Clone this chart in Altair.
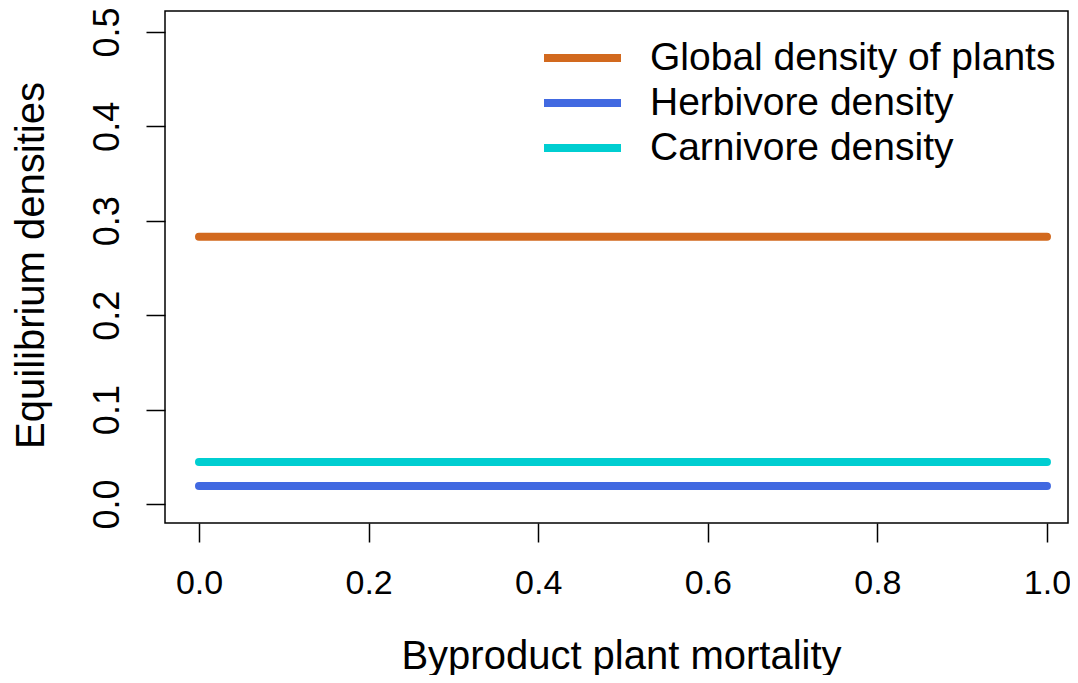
import altair as alt
import pandas as pd

series = ["Global density of plants", "Herbivore density", "Carnivore density"]
colors = ["#D2691E", "#4169E1", "#00CED1"]
mortality = [0.0, 1.0]
global_plants = [0.283, 0.283]
herbivore = [0.019, 0.019]
carnivore = [0.0445, 0.0445]
x_ticks = [0.0, 0.2, 0.4, 0.6, 0.8, 1.0]
y_ticks = [0.0, 0.1, 0.2, 0.3, 0.4, 0.5]

rows = []
for name, vals in zip(series, [global_plants, herbivore, carnivore]):
    for x, v in zip(mortality, vals):
        rows.append({"mortality": x, "density": v, "series": name})
df = pd.DataFrame(rows)

FONT = "Liberation Sans"

chart = alt.Chart(df).mark_line(strokeWidth=8, strokeCap="round").encode(
    x=alt.X("mortality:Q",
            scale=alt.Scale(domain=[-0.0401, 1.0248], nice=False, zero=False),
            axis=alt.Axis(values=x_ticks, format=".1f", title="Byproduct plant mortality",
                          domain=False, grid=False, tickSize=19, tickWidth=1.5, tickColor="black",
                          labelFontSize=34, labelFont=FONT, labelColor="black",
                          labelBaseline="alphabetic", labelPadding=51, labelFlush=False,
                          titleFontSize=40, titleFont=FONT, titleFontWeight="normal", titleColor="black",
                          titleBaseline="alphabetic", titleX=456, titleY=145, titleAlign="center")),
    y=alt.Y("density:Q",
            scale=alt.Scale(domain=[-0.0201, 0.5222], nice=False, zero=False),
            axis=alt.Axis(values=y_ticks, format=".1f", title="Equilibrium densities",
                          domain=False, grid=False, tickSize=19, tickWidth=1.5, tickColor="black",
                          labelFontSize=36, labelFont=FONT, labelColor="black",
                          labelAngle=-90, labelAlign="center", labelBaseline="alphabetic",
                          labelPadding=28, labelFlush=False,
                          titleFontSize=40, titleFont=FONT, titleFontWeight="normal", titleColor="black",
                          titleAngle=-90, titleBaseline="alphabetic", titleAlign="center",
                          titleX=-122, titleY=254)),
    color=alt.Color("series:N",
                    scale=alt.Scale(domain=series, range=colors),
                    legend=alt.Legend(title=None, orient="none", legendX=396, legendY=25.5,
                                      padding=0, symbolType="M-2.2,0H2.2", symbolSize=1225,
                                      symbolStrokeWidth=8, labelFontSize=39, labelFont=FONT,
                                      labelColor="black", labelOffset=46, rowPadding=3,
                                      labelBaseline="middle", labelLimit=600)),
).properties(
    width=903, height=512,
    autosize=alt.AutoSizeParams(type="none"),
    padding={"left": 157, "top": 3, "right": 2, "bottom": 152},
).configure(
    background="white",
    view=alt.ViewConfig(stroke="black", strokeWidth=1.5),
)

chart.save("out.html", embed_options={"renderer": "svg", "actions": False})
